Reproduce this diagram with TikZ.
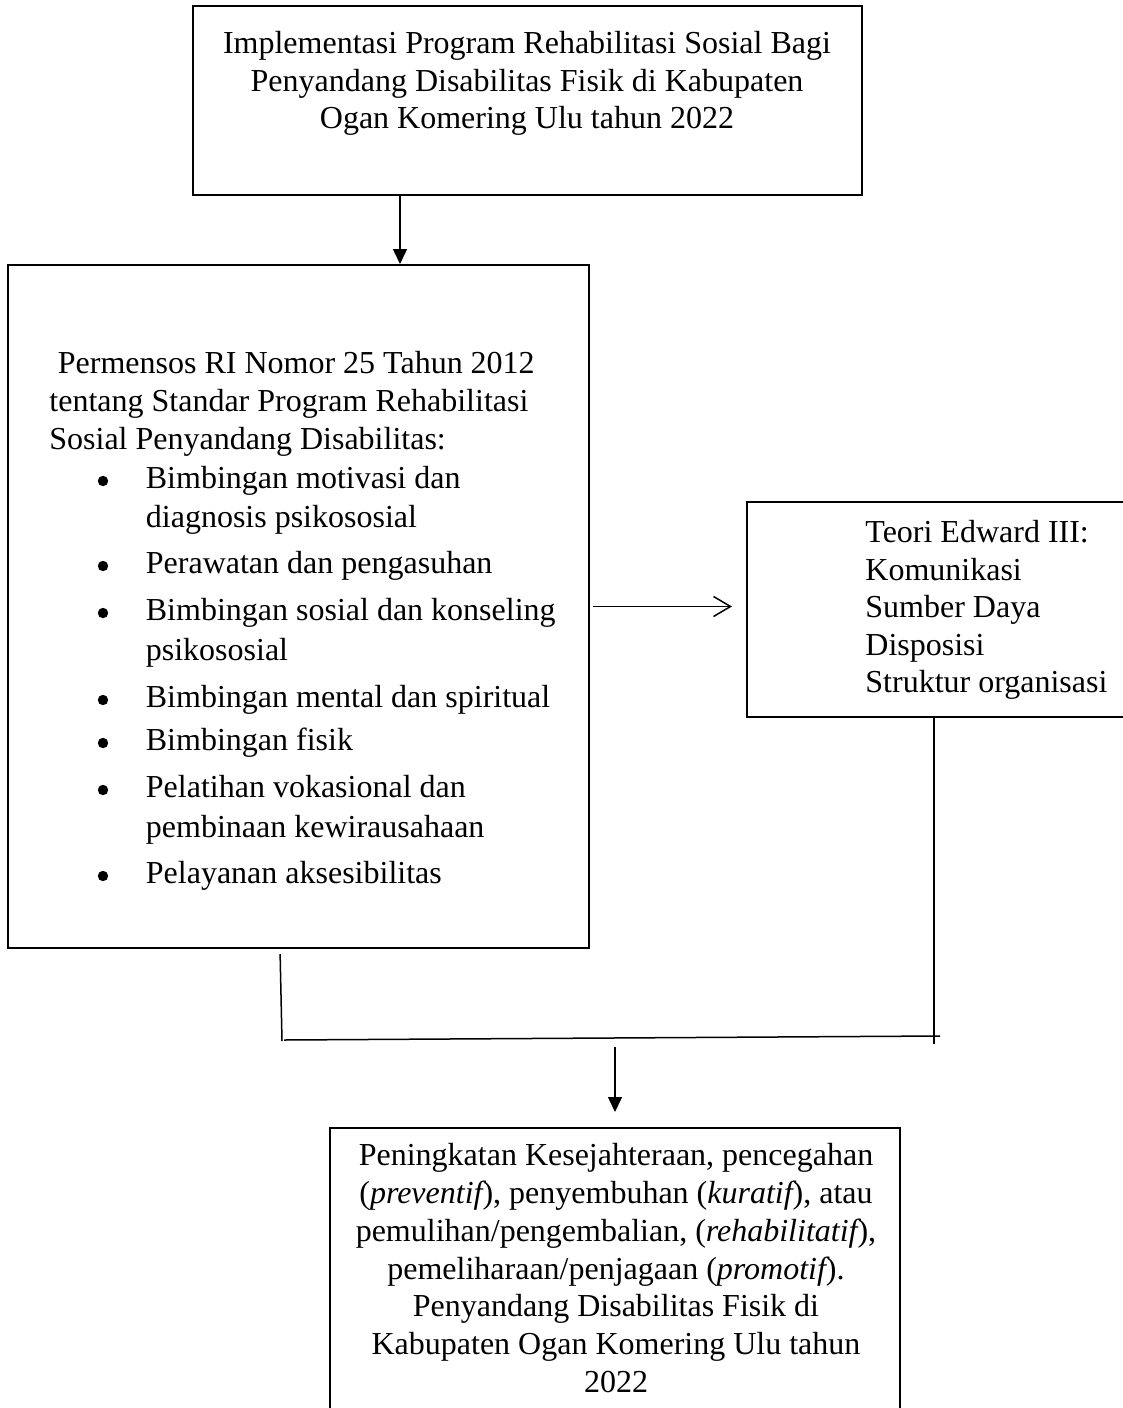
\documentclass[tikz,border=0pt]{standalone}
\usepackage{fontspec}
\setmainfont{Liberation Serif}
\usetikzlibrary{arrows.meta,fit}
\begin{document}
\begin{tikzpicture}[x=0.5pt, y=-0.5pt,
  box/.style={draw, line width=1pt, inner sep=0pt},
  conn/.style={line width=0.75pt},
  txt/.style={inner sep=0pt, font=\fontsize{16}{19}\selectfont},
  bullet/.style={circle, fill, inner sep=0pt, minimum size=5.2pt},
  filltip/.style={-{Triangle[width=7pt,length=7.5pt]}},
  opentip/.style={-{Straight Barb[width=10pt,length=8.5pt,line width=0.75pt]}}]
\useasboundingbox (0,0) rectangle (1123,1408);

% boxes
\node[box, fit={(193,6) (862,195)}] (top) {};
\node[box, fit={(8,265) (589,948)}] (left) {};
\node[box, fit={(747,502) (1140,717)}] (right) {};
\node[box, fit={(330,1128) (900,1430)}] (bottom) {};

% top box text
\foreach \t [count=\i] in {Implementasi Program Rehabilitasi Sosial Bagi, Penyandang Disabilitas Fisik di Kabupaten, Ogan Komering Ulu tahun 2022}
  \node[txt, anchor=mid] (ta\i) at (527, {49+37.5*(\i-1)}) {\t};

% left box text
\node[txt, anchor=mid west] (lb1) at (57.5,369) {Permensos RI Nomor 25 Tahun 2012};
\node[txt, anchor=mid west] (lb2) at (49,407) {tentang Standar Program Rehabilitasi};
\node[txt, anchor=mid west] (lb3) at (49,445) {Sosial Penyandang Disabilitas:};
\foreach \y [count=\i] in {484,569,616,703,746,793,879}
  \node[bullet] (bu\i) at (103,{\y-3}) {};
\foreach \y/\t [count=\i] in {484/Bimbingan motivasi dan, 523/diagnosis psikososial, 569/Perawatan dan pengasuhan, 616/Bimbingan sosial dan konseling, 656/psikososial, 703/Bimbingan mental dan spiritual, 746/Bimbingan fisik, 793/Pelatihan vokasional dan, 833/pembinaan kewirausahaan, 879/Pelayanan aksesibilitas}
  \node[txt, anchor=mid west] (it\i) at (145.5,\y) {\t};

% right box text
\foreach \t [count=\i] in {Teori Edward III:, Komunikasi, Sumber Daya, Disposisi, Struktur organisasi}
  \node[txt, anchor=mid west] (rb\i) at (865, {538+37.5*(\i-1)}) {\t};

% bottom box text
\foreach \t [count=\i] in {{Peningkatan Kesejahteraan, pencegahan}, {({\itshape preventif}), penyembuhan ({\itshape kuratif}), atau}, {pemulihan/pengembalian, ({\itshape rehabilitatif}),}, {pemeliharaan/penjagaan ({\itshape promotif}).}, {Penyandang Disabilitas Fisik di}, {Kabupaten Ogan Komering Ulu tahun}, {2022}}
  \node[txt, anchor=mid] (bb\i) at (616, {1161+37.8*(\i-1)}) {\t};

% connectors
\coordinate (c1) at (400,0);
\draw[conn, filltip] (top.south -| c1) -- (left.north -| c1);

\draw[conn, opentip, shorten <=1.5pt, shorten >=7pt] (left.east) -- (left.east -| right.west);

\coordinate (c3) at (280,0);
\coordinate (j1) at (282,1041);
\coordinate (h1) at (284,1040);
\coordinate (h2) at (940,1036);
\coordinate (c4) at (934,0);
\coordinate (j3) at (934,1044);
\coordinate (j4) at (615,1047);
\draw[conn, shorten <=2.5pt] (left.south -| c3) -- (j1);
\draw[conn] (h1) -- (h2);
\draw[conn] (right.south -| c4) -- (j3);
\draw[conn, filltip, shorten >=7.5pt] (j4) -- (j4 |- bottom.north);
\end{tikzpicture}
\end{document}
